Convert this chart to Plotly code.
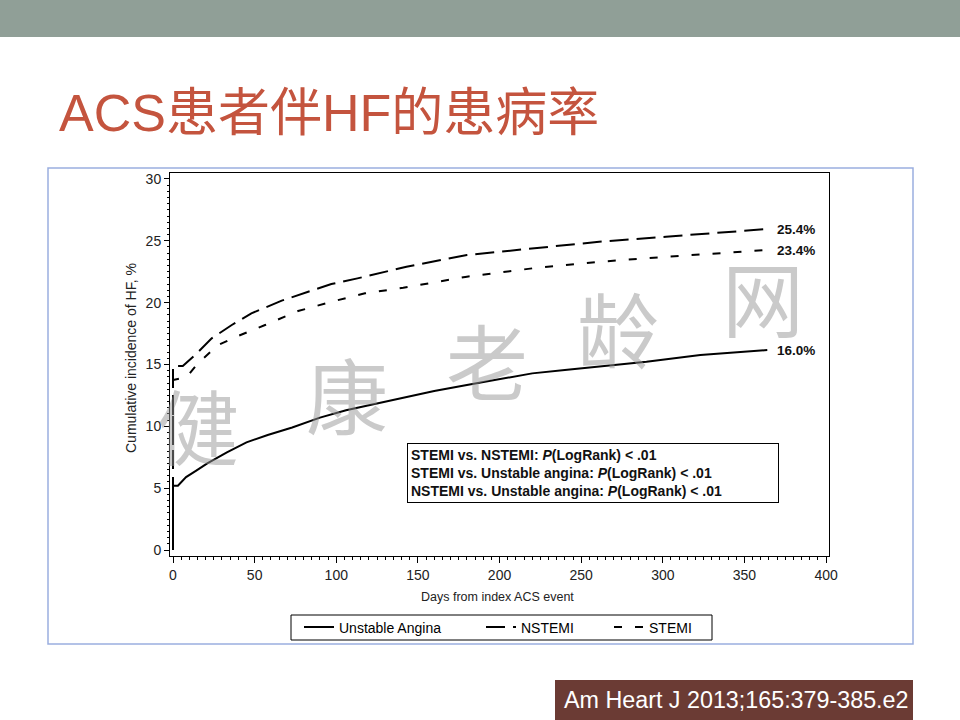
import plotly.graph_objects as go

# ---------------- data ----------------
ua_days = [0, 0, 3, 8, 14, 21, 33, 45, 58, 73, 90, 106, 120, 139, 160, 180, 200, 220, 240, 261, 290, 323, 345, 364]
ua_vals = [0, 5.2, 5.2, 5.9, 6.4, 7.0, 7.9, 8.7, 9.3, 9.9, 10.7, 11.3, 11.7, 12.26, 12.85, 13.34, 13.8, 14.28, 14.55, 14.82, 15.22, 15.76, 15.95, 16.17]

nstemi_days = [0, 0, 6, 13.5, 23.7, 36, 48, 66.6, 82.8, 97, 113, 136, 143, 180, 220, 261, 302, 330, 355, 364]
nstemi_vals = [0, 14.87, 14.87, 15.76, 17.11, 18.19, 19.13, 20.16, 20.88, 21.5, 21.96, 22.69, 22.9, 23.85, 24.39, 24.92, 25.33, 25.6, 25.87, 25.95]

stemi_days = [0, 0, 8.4, 15.3, 27.6, 38, 56.4, 76.6, 97, 117.6, 141, 180, 220, 261, 302, 343, 363]
stemi_vals = [0, 13.74, 14.0, 15.1, 16.57, 17.2, 18.19, 19.32, 20.07, 20.75, 21.2, 22.1, 22.77, 23.3, 23.7, 24.1, 24.25]

series_names = ["Unstable Angina", "NSTEMI", "STEMI"]
end_labels = ["16.0%", "25.4%", "23.4%"]
x_ticks = [0, 50, 100, 150, 200, 250, 300, 350, 400]
y_ticks = [0, 5, 10, 15, 20, 25, 30]

title_text = "ACS患者伴HF的患病率"
x_title = "Days from index ACS event"
y_title = "Cumulative incidence of HF, %"
stats_lines = [
    "STEMI vs. NSTEMI: <i>P</i>(LogRank) &lt; .01",
    "STEMI vs. Unstable angina: <i>P</i>(LogRank) &lt; .01",
    "NSTEMI vs. Unstable angina: <i>P</i>(LogRank) &lt; .01",
]
citation = "Am Heart J 2013;165:379-385.e2"
watermark_chars = ["健", "康", "老", "龄", "网"]

# ---------------- layout helpers ----------------
W, H = 960, 720
def px(x):
    return x / W
def py(y):
    return 1 - y / H

SANS = "Liberation Sans, Arial, Helvetica, sans-serif"

fig = go.Figure()

fig.add_trace(go.Scatter(x=ua_days, y=ua_vals, mode="lines", name=series_names[0], showlegend=True,
                         line=dict(color="black", width=2), legend="legend"))
fig.add_trace(go.Scatter(x=nstemi_days, y=nstemi_vals, mode="lines", name=series_names[1], showlegend=True,
                         line=dict(color="black", width=2, dash="19px,8px"), legend="legend2"))
fig.add_trace(go.Scatter(x=stemi_days, y=stemi_vals, mode="lines", name=series_names[2], showlegend=True,
                         line=dict(color="black", width=2, dash="8px,13px"), legend="legend3"))

axis_common = dict(showgrid=False, zeroline=False, showline=True, linecolor="black", linewidth=1,
                   mirror=True, ticks="outside", tickcolor="black", tickwidth=1, automargin=False,
                   tickfont=dict(family=SANS, size=14, color="#222"))

leg_common = dict(yanchor="middle", xanchor="left", orientation="h", bgcolor="rgba(0,0,0,0)", itemwidth=30,
                  font=dict(family=SANS, size=14, color="black"), visible=True)

fig.update_layout(
    width=W, height=H,
    margin=dict(l=0, r=0, t=0, b=0, pad=0, autoexpand=False),
    paper_bgcolor="white", plot_bgcolor="white",
    showlegend=True,
    xaxis=dict(domain=[170 / W, 829 / W], range=[-1.84, 401.8], tickvals=x_ticks, ticklen=6,
               minor=dict(dtick=5, ticklen=3, ticks="outside", tickcolor="black"), **axis_common),
    yaxis=dict(domain=[py(556), py(173)], range=[-0.485, 30.48], tickvals=y_ticks, ticklen=5,
               minor=dict(dtick=0.5, ticklen=2, ticks="outside", tickcolor="black"), **axis_common),
    legend=dict(x=px(299), y=py(627.5), **leg_common),
    legend2=dict(x=px(481), y=py(627.5), **leg_common),
    legend3=dict(x=px(609), y=py(627.5), **leg_common),
)

shapes = [
    # top banner
    dict(type="rect", xref="paper", yref="paper", x0=-0.05, x1=1.05, y0=py(37), y1=1.05,
         fillcolor="#909f97", line=dict(width=0), layer="below"),
    # outer blue frame
    dict(type="rect", xref="paper", yref="paper", x0=px(48), x1=px(913), y0=py(644), y1=py(168),
         line=dict(color="#9aaee0", width=1.5), fillcolor="rgba(0,0,0,0)"),
    # legend frame
    dict(type="rect", xref="paper", yref="paper", x0=px(291), x1=px(712), y0=py(640), y1=py(615),
         line=dict(color="black", width=1), fillcolor="rgba(0,0,0,0)"),
    # citation box
    dict(type="rect", xref="paper", yref="paper", x0=px(555), x1=px(913), y0=-0.05, y1=py(680),
         fillcolor="#6b3b34", line=dict(width=0)),
]

annotations = [
    dict(text=title_text, xref="paper", yref="paper", x=px(57), y=py(113), xanchor="left", yanchor="middle",
         showarrow=False, font=dict(family="Liberation Sans, Noto Sans CJK SC", size=52, color="#c4543e")),
    dict(text=y_title, xref="paper", yref="paper", x=px(131), y=py(358), textangle=-90,
         xanchor="center", yanchor="middle",
         showarrow=False, font=dict(family=SANS, size=14, color="#222")),
    dict(text=x_title, xref="paper", yref="paper", x=px(497), y=py(597),
         xanchor="center", yanchor="middle",
         showarrow=False, font=dict(family=SANS, size=12.5, color="#222")),
    dict(text="<b>" + "<br>".join(stats_lines) + "</b>", xref="paper", yref="paper",
         x=px(407), y=py(443), xanchor="left", yanchor="top", align="left", showarrow=False,
         width=364, borderpad=3, bordercolor="black", borderwidth=1, bgcolor="white",
         font=dict(family=SANS, size=14, color="#111")),
    dict(text=citation, xref="paper", yref="paper", x=px(562), y=py(700), xanchor="left", yanchor="middle",
         showarrow=False, font=dict(family=SANS, size=23.3, color="white")),
]

# end-of-curve labels anchored to the last value of each series
for lab, vals in zip(end_labels, [ua_vals, nstemi_vals, stemi_vals]):
    annotations.append(dict(text="<b>" + lab + "</b>", x=369, y=vals[-1], xref="x", yref="y",
                            xanchor="left", yanchor="middle", showarrow=False,
                            font=dict(family=SANS, size=13.5, color="#111")))

# watermark
wm_pos = [(198, 423), (347, 393), (487, 358), (618, 327), (763, 295)]
for ch, (wx, wy) in zip(watermark_chars, wm_pos):
    annotations.append(dict(text=ch, xref="paper", yref="paper", x=px(wx), y=py(wy),
                            xanchor="center", yanchor="middle",
                            showarrow=False, font=dict(family="Noto Sans CJK SC", size=82,
                                                       color="rgba(150,150,150,0.5)")))

fig.update_layout(shapes=shapes, annotations=annotations)
fig.write_html("out.html",
               post_script="document.documentElement.style.overflow='hidden';"
                           "document.body.style.overflow='hidden';document.body.style.margin='0';")
